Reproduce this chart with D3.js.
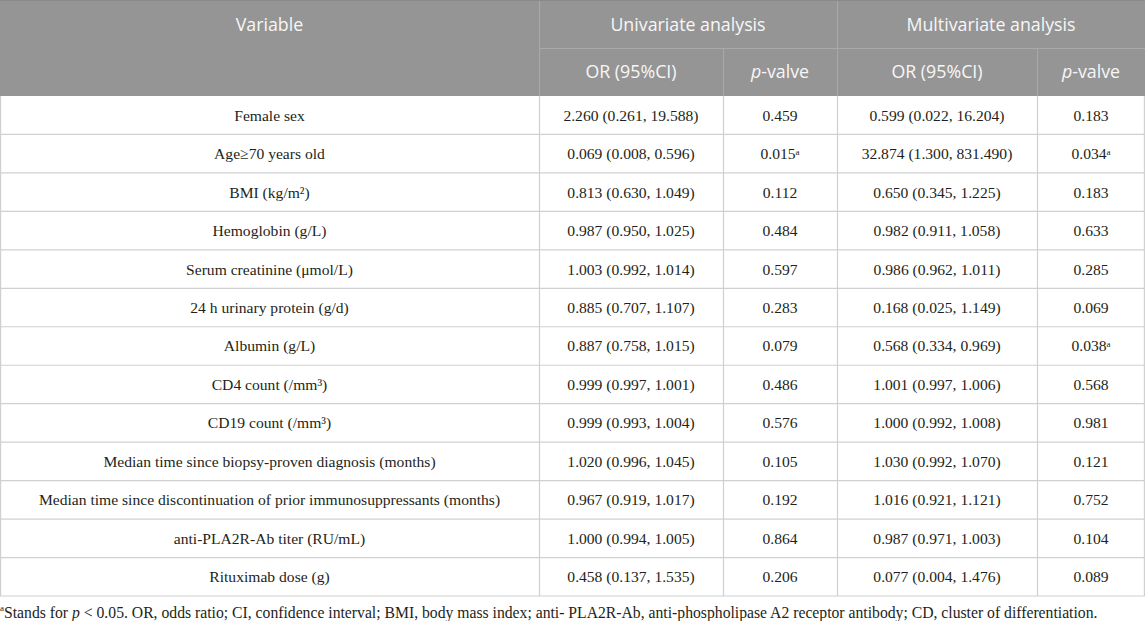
<!DOCTYPE html>
<html>
<head>
<meta charset="utf-8">
<script src="https://cdn.jsdelivr.net/npm/d3@7"></script>
<style>
  body { margin: 0; background: #fff; }
</style>
</head>
<body>
<div id="chart"></div>
<script>
var w = 1145;
var h = 621;

var variables = ["Female sex", "Age≥70 years old", "BMI (kg/m²)", "Hemoglobin (g/L)",
  "Serum creatinine (μmol/L)", "24 h urinary protein (g/d)", "Albumin (g/L)",
  "CD4 count (/mm³)", "CD19 count (/mm³)", "Median time since biopsy-proven diagnosis (months)",
  "Median time since discontinuation of prior immunosuppressants (months)",
  "anti-PLA2R-Ab titer (RU/mL)", "Rituximab dose (g)"];

var uniOR = ["2.260 (0.261, 19.588)", "0.069 (0.008, 0.596)", "0.813 (0.630, 1.049)",
  "0.987 (0.950, 1.025)", "1.003 (0.992, 1.014)", "0.885 (0.707, 1.107)",
  "0.887 (0.758, 1.015)", "0.999 (0.997, 1.001)", "0.999 (0.993, 1.004)",
  "1.020 (0.996, 1.045)", "0.967 (0.919, 1.017)", "1.000 (0.994, 1.005)",
  "0.458 (0.137, 1.535)"];
var uniP = ["0.459", "0.015", "0.112", "0.484", "0.597", "0.283", "0.079", "0.486",
  "0.576", "0.105", "0.192", "0.864", "0.206"];
var uniSig = [false, true, false, false, false, false, false, false, false, false, false, false, false];

var multiOR = ["0.599 (0.022, 16.204)", "32.874 (1.300, 831.490)", "0.650 (0.345, 1.225)",
  "0.982 (0.911, 1.058)", "0.986 (0.962, 1.011)", "0.168 (0.025, 1.149)",
  "0.568 (0.334, 0.969)", "1.001 (0.997, 1.006)", "1.000 (0.992, 1.008)",
  "1.030 (0.992, 1.070)", "1.016 (0.921, 1.121)", "0.987 (0.971, 1.003)",
  "0.077 (0.004, 1.476)"];
var multiP = ["0.183", "0.034", "0.183", "0.633", "0.285", "0.069", "0.038", "0.568",
  "0.981", "0.121", "0.752", "0.104", "0.089"];
var multiSig = [false, true, false, false, false, false, true, false, false, false, false, false, false];

var groupHeaders = ["Univariate analysis", "Multivariate analysis"];
var subHeaders = ["OR (95%CI)", "p-valve", "OR (95%CI)", "p-valve"];

// column edges
var colEdges = [0, 539, 723, 837, 1037, 1145];
var headTop = 0, headMid = 48, headBottom = 96, bodyBottom = 596;

var headFill = "#959595";
var gridColor = "#d0d0d0";
var textColor = "#231f20";
var bodyFont = "'Liberation Serif', 'DejaVu Serif', serif";
var headFont = "'Open Sans', 'Noto Sans', sans-serif";

var svg = d3.select("#chart")
  .append("svg")
  .attr("width", w)
  .attr("height", h);

svg.append("rect").attr("width", w).attr("height", h).attr("fill", "#fff");

var yScale = d3.scaleBand()
  .domain(d3.range(variables.length))
  .range([headBottom, bodyBottom]);

function mid(i) {
  return (colEdges[i] + colEdges[i + 1]) / 2;
}

// header
svg.append("rect")
  .attr("x", 0).attr("y", headTop)
  .attr("width", w).attr("height", headBottom - headTop)
  .attr("fill", headFill);
svg.append("line")
  .attr("x1", 0).attr("x2", w)
  .attr("y1", 0.5).attr("y2", 0.5)
  .attr("stroke", "#8a8a8a");

var headLines = svg.append("g")
  .attr("stroke", "#a9a9a9")
  .attr("stroke-width", 1);
headLines.append("line")
  .attr("x1", colEdges[1]).attr("x2", w)
  .attr("y1", headMid + 0.5).attr("y2", headMid + 0.5);
[1, 3].forEach(function(c) {
  headLines.append("line")
    .attr("x1", colEdges[c] + 0.5).attr("x2", colEdges[c] + 0.5)
    .attr("y1", headTop + 1).attr("y2", headBottom);
});
[2, 4].forEach(function(c) {
  headLines.append("line")
    .attr("x1", colEdges[c] + 0.5).attr("x2", colEdges[c] + 0.5)
    .attr("y1", headMid).attr("y2", headBottom);
});

var headText = svg.append("g")
  .attr("fill", "#f7f7f7")
  .style("font-family", headFont)
  .style("font-size", "17.8px")
  .attr("text-anchor", "middle");

headText.append("text")
  .attr("x", mid(0)).attr("y", headMid / 2 + 1)
  .attr("dy", "0.35em")
  .text("Variable");

groupHeaders.forEach(function(g, i) {
  headText.append("text")
    .attr("x", (colEdges[1 + i * 2] + colEdges[3 + i * 2]) / 2)
    .attr("y", headMid / 2 + 1)
    .attr("dy", "0.35em")
    .text(g);
});

subHeaders.forEach(function(s, i) {
  var t = headText.append("text")
    .attr("x", mid(i + 1))
    .attr("y", (headMid + headBottom) / 2)
    .attr("dy", "0.35em");
  if (s.indexOf("p-") === 0) {
    t.append("tspan").style("font-style", "italic").text("p");
    t.append("tspan").text(s.slice(1));
  } else {
    t.text(s);
  }
});

// body grid
var grid = svg.append("g")
  .attr("stroke", gridColor)
  .attr("stroke-width", 1.2);

d3.range(variables.length).forEach(function(i) {
  grid.append("line")
    .attr("x1", 0).attr("x2", w)
    .attr("y1", yScale(i) + yScale.bandwidth())
    .attr("y2", yScale(i) + yScale.bandwidth());
});
colEdges.forEach(function(x, i) {
  var xx = i === 0 ? 0.6 : (i === colEdges.length - 1 ? w - 0.6 : x + 0.5);
  grid.append("line")
    .attr("x1", xx).attr("x2", xx)
    .attr("y1", headBottom).attr("y2", bodyBottom);
});

// body text
var body = svg.append("g")
  .attr("fill", textColor)
  .style("font-family", bodyFont)
  .style("font-size", "15.6px")
  .attr("text-anchor", "middle");

var columns = [variables, uniOR, uniP, multiOR, multiP];
var sigCols = {2: uniSig, 4: multiSig};

columns.forEach(function(col, c) {
  body.selectAll(null)
    .data(col)
    .enter()
    .append("text")
    .attr("x", mid(c))
    .attr("y", function(d, i) { return yScale(i) + yScale.bandwidth() / 2; })
    .attr("dy", "0.35em")
    .each(function(d, i) {
      var t = d3.select(this);
      t.append("tspan").text(d);
      if (sigCols[c] && sigCols[c][i]) {
        t.append("tspan")
          .attr("dy", "-0.45em")
          .style("font-size", "9px")
          .text("a");
      }
    });
});

// footnote
var foot = svg.append("text")
  .attr("x", 0)
  .attr("y", 615)
  .attr("fill", textColor)
  .style("font-family", bodyFont)
  .style("font-size", "15.7px");
foot.append("tspan").attr("dy", "-0.45em").style("font-size", "9px").text("a");
foot.append("tspan").attr("dy", "0.45em").text("Stands for ");
foot.append("tspan").style("font-style", "italic").text("p");
foot.append("tspan").text(" < 0.05. OR, odds ratio; CI, confidence interval; BMI, body mass index; anti- PLA2R-Ab, anti-phospholipase A2 receptor antibody; CD, cluster of differentiation.");
</script>
</body>
</html>
